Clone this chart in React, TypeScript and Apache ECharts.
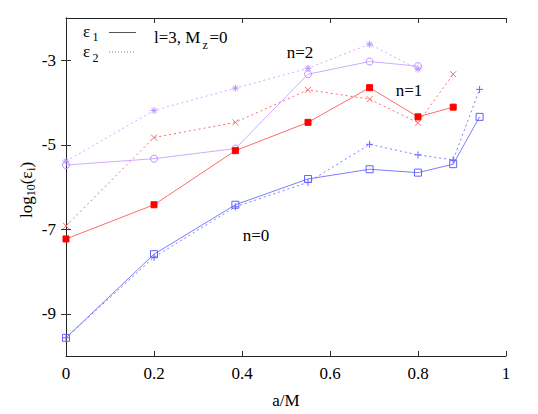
import { useEffect, useRef } from 'react';
import * as echarts from 'echarts';

// spin parameter a/M for each overtone
const aN2 = [0, 0.2, 0.385, 0.55, 0.69, 0.8];
const aN1 = [0, 0.2, 0.385, 0.55, 0.69, 0.8, 0.88];
const aN0 = [0, 0.2, 0.385, 0.55, 0.69, 0.8, 0.88, 0.94];

// log10(eps_i)
const n2Eps1 = [-5.48, -5.33, -5.09, -3.33, -3.03, -3.14];
const n2Eps2 = [-5.39, -4.19, -3.66, -3.19, -2.62, -3.21];
const n1Eps1 = [-7.23, -6.42, -5.14, -4.47, -3.65, -4.34, -4.11];
const n1Eps2 = [-6.92, -4.83, -4.47, -3.7, -3.92, -4.48, -3.33];
const n0Eps1 = [-9.57, -7.59, -6.42, -5.81, -5.58, -5.66, -5.46, -4.34];
const n0Eps2 = [-9.57, -7.66, -6.47, -5.89, -4.99, -5.24, -5.36, -3.69];

const yTickValues = [-9, -7, -5, -3];

const FONT = "'Liberation Serif', 'Times New Roman', 'DejaVu Serif', serif";
const PURPLE_LINE = '#cfadff';
const PURPLE_MARK = '#bb90ff';
const RED_LINE = '#ff6b6b';
const RED_MARK = '#ff0000';
const BLUE_LINE = '#7c7cff';
const BLUE_MARK = '#6262ff';

const X_SYM = 'path://M0,0L10,10M10,0L0,10';
const PLUS_SYM = 'path://M5,0L5,10M0,5L10,5';
const STAR_SYM = 'path://M5,0L5,10M0,5L10,5M1.5,1.5L8.5,8.5M8.5,1.5L1.5,8.5';

function pairs(xs: number[], ys: number[]) {
  return xs.map((x, i) => [x, ys[i]]);
}

function series(
  name: string,
  xs: number[],
  ys: number[],
  lineColor: string,
  symbol: string,
  size: number,
  fill: string,
  border: string,
  dotted: boolean
) {
  return {
    type: 'line',
    name,
    data: pairs(xs, ys),
    symbol,
    symbolSize: size,
    showAllSymbol: true,
    lineStyle: { color: lineColor, width: 1, type: dotted ? [2, 3] : 'solid' },
    itemStyle: { color: fill, borderColor: border, borderWidth: 1 },
    emphasis: { disabled: true },
    z: 3,
  };
}

function txt(text: string, x: number, y: number, size: number, align = 'left') {
  return {
    type: 'text',
    x,
    y,
    style: {
      text,
      fontFamily: FONT,
      fontSize: size,
      fill: '#000',
      align,
      textAlign: align,
      verticalAlign: 'middle',
      textVerticalAlign: 'middle',
    },
    z: 10,
  };
}

export default function App() {
  const ref = useRef<HTMLDivElement>(null);
  useEffect(() => {
    document.body.style.margin = '0';
    if (!ref.current) return;
    const chart = echarts.init(ref.current, null, { renderer: 'svg' });
    const axisLine = { show: true, lineStyle: { color: '#222', width: 1 } };
    const tick = { show: true, inside: true, length: 5, lineStyle: { color: '#333' } };
    const option: any = {
      animation: false,
      backgroundColor: '#fff',
      textStyle: { fontFamily: FONT },
      grid: { left: 66, right: 32, top: 18, bottom: 58, containLabel: false },
      xAxis: [
        {
          type: 'value',
          min: 0,
          max: 1,
          interval: 0.2,
          position: 'bottom',
          axisLine,
          axisTick: tick,
          splitLine: { show: false },
          axisLabel: {
            margin: 9,
            fontFamily: FONT,
            fontSize: 17,
            color: '#000',
            formatter: (v: number) => String(Math.round(v * 10) / 10),
          },
        },
        {
          type: 'value',
          min: 0,
          max: 1,
          interval: 0.2,
          position: 'top',
          axisLine,
          axisTick: tick,
          splitLine: { show: false },
          axisLabel: { show: false },
        },
      ],
      yAxis: [
        {
          type: 'value',
          min: -10,
          max: -2,
          position: 'left',
          axisLine,
          axisTick: { ...tick, customValues: yTickValues },
          splitLine: { show: false },
          axisLabel: {
            customValues: yTickValues,
            margin: 10,
            fontFamily: FONT,
            fontSize: 17,
            color: '#000',
          },
        },
        {
          type: 'value',
          min: -10,
          max: -2,
          position: 'right',
          axisLine,
          axisTick: { ...tick, customValues: yTickValues },
          splitLine: { show: false },
          axisLabel: { show: false },
        },
      ],
      series: [
        series('n2e1', aN2, n2Eps1, PURPLE_LINE, 'circle', 7, 'rgba(0,0,0,0)', PURPLE_MARK, false),
        series('n2e2', aN2, n2Eps2, PURPLE_LINE, STAR_SYM, 7, PURPLE_MARK, PURPLE_MARK, true),
        series('n1e1', aN1, n1Eps1, RED_LINE, 'rect', 6, RED_MARK, RED_MARK, false),
        series('n1e2', aN1, n1Eps2, RED_LINE, X_SYM, 6, RED_LINE, RED_LINE, true),
        series('n0e1', aN0, n0Eps1, BLUE_LINE, 'rect', 7, 'rgba(0,0,0,0)', BLUE_MARK, false),
        series('n0e2', aN0, n0Eps2, BLUE_LINE, PLUS_SYM, 7, BLUE_MARK, BLUE_MARK, true),
      ],
      graphic: [
        // legend
        txt('ε', 83, 31, 17),
        txt('1', 92.5, 37, 12),
        { type: 'line', shape: { x1: 109, y1: 32.5, x2: 136, y2: 32.5 }, style: { stroke: '#555', lineWidth: 1 }, z: 10 },
        txt('ε', 83, 51, 17),
        txt('2', 92.5, 58, 12),
        { type: 'line', shape: { x1: 109, y1: 52, x2: 136, y2: 52 }, style: { stroke: '#888', lineWidth: 1, lineDash: [1, 2] }, z: 10 },
        txt('l=3, M', 154, 37.5, 17),
        txt('z', 202.5, 44.5, 12),
        txt('=0', 209.5, 37.5, 17),
        // annotations
        txt('n=2', 300, 52, 17, 'center'),
        txt('n=1', 409, 90.5, 17, 'center'),
        txt('n=0', 256, 235, 17, 'center'),
        // x axis name
        txt('a/M', 286, 400, 17, 'center'),
        // y axis name (rotated)
        {
          type: 'group',
          x: 26,
          y: 188,
          rotation: Math.PI / 2,
          children: [
            txt('log', -30, 0, 17),
            txt('10', -8.3, 5, 12),
            txt('(ε', 3.7, 0, 17),
            txt('i', 17, 5, 12),
            txt(')', 20.5, 0, 17),
          ],
        },
      ],
    };
    chart.setOption(option);
    return () => chart.dispose();
  }, []);
  return <div ref={ref} style={{ width: 538, height: 414 }} />;
}
